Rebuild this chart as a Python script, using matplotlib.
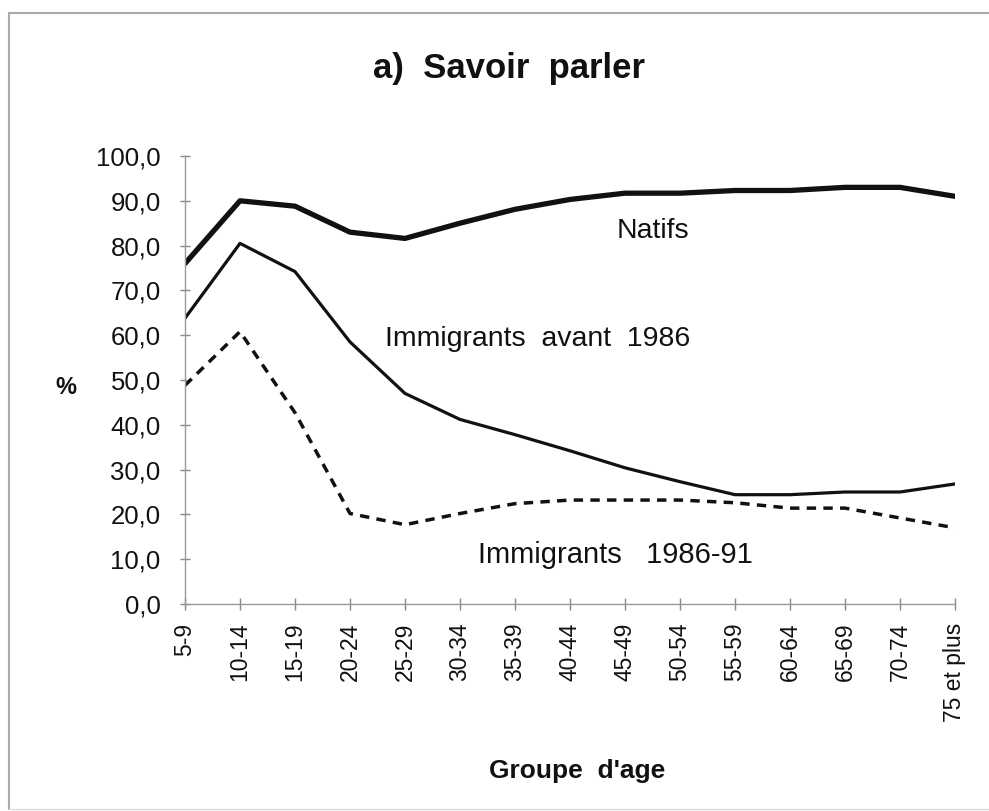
import matplotlib
matplotlib.use("Agg")
import matplotlib.pyplot as plt
from matplotlib.lines import Line2D
from matplotlib.ticker import FuncFormatter

plt.rcParams['font.family'] = ['Liberation Sans', 'DejaVu Sans']

age_groups = ["5-9", "10-14", "15-19", "20-24", "25-29", "30-34", "35-39",
              "40-44", "45-49", "50-54", "55-59", "60-64", "65-69", "70-74",
              "75 et plus"]
natifs = [76.0, 90.0, 88.8, 83.0, 81.6, 85.0, 88.1, 90.3, 91.7, 91.7,
          92.3, 92.3, 93.0, 93.0, 91.0]
immigrants_avant_1986 = [63.8, 80.5, 74.2, 58.5, 47.0, 41.2, 37.8, 34.2,
                         30.4, 27.3, 24.4, 24.4, 25.0, 25.0, 26.8]
immigrants_1986_91 = [48.8, 60.8, 42.7, 20.2, 17.7, 20.2, 22.4, 23.2,
                      23.2, 23.2, 22.6, 21.4, 21.4, 19.2, 17.0]
y_ticks = [0, 10, 20, 30, 40, 50, 60, 70, 80, 90, 100]

W, H = 989, 811
fig = plt.figure(figsize=(W / 100, H / 100), dpi=100)

def fx(px):
    return px / W

def fy(py):
    return 1 - py / H

ax = fig.add_axes([fx(185), fy(604), fx(955) - fx(185), fy(156) - fy(604)])
x = list(range(len(age_groups)))

ax.plot(x, natifs, color='#111111', lw=3.8, solid_joinstyle='round',
        solid_capstyle='round')
ax.plot(x, immigrants_avant_1986, color='#111111', lw=2.3,
        solid_joinstyle='round')
ax.plot(x, immigrants_1986_91, color='#111111', lw=2.5,
        dashes=(2.7, 2.1))

ax.set_xlim(0, len(age_groups) - 1)
ax.set_ylim(0, 100)
ax.set_xticks(x)
ax.set_xticklabels(age_groups, rotation=90, fontsize=16.5)
ax.set_yticks(y_ticks)
ax.yaxis.set_major_formatter(FuncFormatter(lambda v, p: f"{v:.1f}".replace('.', ',')))
ax.tick_params(axis='y', labelsize=18.5, direction='inout', length=7,
               color='#888888', width=1, pad=14, labelcolor='#111111')
ax.tick_params(axis='x', direction='inout', length=9, color='#888888',
               width=1, pad=9, labelcolor='#111111')

for s in ['top', 'right']:
    ax.spines[s].set_visible(False)
for s in ['left', 'bottom']:
    ax.spines[s].set_color('#999999')
    ax.spines[s].set_linewidth(1.0)

# labels and annotations
fig.text(fx(509), fy(78), "a)  Savoir  parler", fontsize=25,
         fontweight='bold', ha='center', va='baseline', color='#111111')
fig.text(fx(66), fy(388), "%", fontsize=17, fontweight='bold',
         ha='center', va='center', color='#111111')
fig.text(fx(577), fy(778), "Groupe  d'age", fontsize=19, fontweight='bold',
         ha='center', va='baseline', color='#111111')

fig.text(fx(617), fy(238), "Natifs", fontsize=20.5, ha='left',
         va='baseline', color='#111111')
fig.text(fx(385), fy(346), "Immigrants  avant  1986", fontsize=20.5,
         ha='left', va='baseline', color='#111111')
fig.text(fx(478), fy(563), "Immigrants   1986-91", fontsize=21,
         ha='left', va='baseline', color='#111111')

# outer frame
frame_col = '#aaaaaa'
fig.add_artist(Line2D([fx(9), 1.0], [fy(13), fy(13)], color=frame_col, lw=1.5))
fig.add_artist(Line2D([fx(9), fx(9)], [fy(13), fy(809)], color=frame_col, lw=1.5))
fig.add_artist(Line2D([fx(9), 1.0], [fy(809), fy(809)], color='#dddddd', lw=1.0))

fig.savefig("out.png", dpi=100)
